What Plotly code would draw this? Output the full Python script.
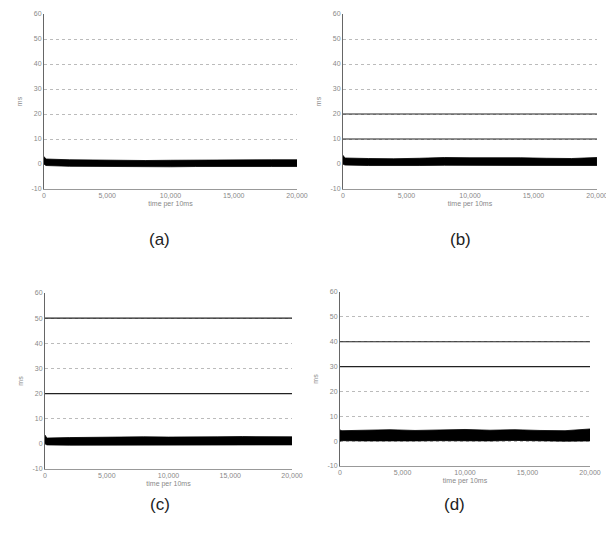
import plotly.graph_objects as go

# ---- data ----
x_ticks = [0, 5000, 10000, 15000, 20000]
x_tick_labels = ["0", "5,000", "10,000", "15,000", "20,000"]
y_ticks = [-10, 0, 10, 20, 30, 40, 50, 60]
y_tick_labels = ["-10", "0", "10", "20", "30", "40", "50", "60"]

# envelope of the dense noisy trace (read at these sample times)
env_x = [0, 150, 2000, 4000, 6000, 8000, 10000, 12000, 14000, 16000, 18000, 20000]

a_upper = [3.0, 2.0, 1.7, 1.5, 1.6, 1.4, 1.5, 1.6, 1.8, 1.9, 1.7, 1.7]
a_lower = [0.0, -0.6, -0.9, -1.0, -1.0, -1.1, -1.1, -1.0, -0.9, -0.9, -1.0, -1.0]

b_upper = [3.5, 2.4, 2.2, 2.1, 2.3, 2.6, 2.5, 2.6, 2.5, 2.3, 2.2, 2.6]
b_lower = [0.0, -0.4, -0.6, -0.7, -0.6, -0.5, -0.5, -0.5, -0.6, -0.7, -0.7, -0.6]

c_upper = [3.5, 2.3, 2.5, 2.6, 2.9, 2.8, 2.7, 2.9, 2.8, 2.9, 2.7, 2.8]
c_lower = [0.0, -0.4, -0.5, -0.5, -0.4, -0.4, -0.5, -0.5, -0.4, -0.4, -0.5, -0.4]

d_upper = [4.5, 4.2, 4.4, 4.6, 4.3, 4.5, 4.7, 4.4, 4.6, 4.3, 4.2, 4.9]
d_lower = [0.0, 0.2, 0.1, 0.0, 0.1, 0.2, 0.0, 0.1, 0.3, 0.1, 0.0, 0.1]

# constant reference levels in each panel
b_levels = [10, 20]
c_levels = [20, 50]
d_levels = [30, 40]

panels = [
    ("(a)", a_upper, a_lower, []),
    ("(b)", b_upper, b_lower, b_levels),
    ("(c)", c_upper, c_lower, c_levels),
    ("(d)", d_upper, d_lower, d_levels),
]

# ---- layout geometry (paper fractions; page body adds an 8px offset) ----
domains = [
    ([0.0594, 0.4769], [0.6629, 0.9888]),
    ([0.5528, 0.9719], [0.6629, 0.9888]),
    ([0.0611, 0.4686], [0.1415, 0.4693]),
    ([0.5479, 0.9604], [0.1471, 0.4711]),
]
caption_pos = [(0.2508, 0.568), (0.7459, 0.568), (0.2508, 0.0745), (0.7376, 0.0745)]

fig = go.Figure()
layout = dict(
    width=606, height=537,
    margin=dict(l=0, r=0, t=0, b=0, autoexpand=False),
    paper_bgcolor="white", plot_bgcolor="white",
    showlegend=False,
    font=dict(family="Liberation Sans, Arial, sans-serif", size=7, color="#888"),
    annotations=[],
)

for i, (cap, up, lo, levels) in enumerate(panels):
    n = "" if i == 0 else str(i + 1)
    xa, ya = "x" + n, "y" + n
    fig.add_trace(go.Scatter(x=env_x, y=lo, mode="lines", line=dict(color="black", width=0.8),
                             xaxis=xa, yaxis=ya, hoverinfo="skip"))
    fig.add_trace(go.Scatter(x=env_x, y=up, mode="lines", line=dict(color="black", width=0.8),
                             fill="tonexty", fillcolor="black",
                             xaxis=xa, yaxis=ya, hoverinfo="skip"))
    for lv in levels:
        fig.add_trace(go.Scatter(x=[env_x[0], env_x[-1]], y=[lv, lv], mode="lines",
                                 line=dict(color="#222", width=1.2),
                                 xaxis=xa, yaxis=ya, hoverinfo="skip"))
    xd, yd = domains[i]
    layout["xaxis" + n] = dict(
        domain=xd, anchor=ya, range=[0, 20000], tickvals=x_ticks, ticktext=x_tick_labels,
        showgrid=False, zeroline=False, showline=True, linecolor="#999", linewidth=1,
        ticks="", tickfont=dict(size=7, color="#888"), automargin=False,
        title=dict(text="time per 10ms", font=dict(size=7, color="#888"), standoff=2),
    )
    layout["yaxis" + n] = dict(
        domain=yd, anchor=xa, range=[-10, 60], tickvals=y_ticks, ticktext=y_tick_labels,
        showgrid=True, gridcolor="#bbbbbb", griddash="dot", gridwidth=1,
        zeroline=False, showline=True, linecolor="#666", linewidth=1,
        ticks="", tickfont=dict(size=7, color="#888"), automargin=False,
        title=dict(text="ms", font=dict(size=7, color="#888"), standoff=8),
    )
    cx, cy = caption_pos[i]
    layout["annotations"].append(dict(
        text=cap, x=cx, y=cy, xref="paper", yref="paper", showarrow=False,
        xanchor="center", yanchor="middle",
        font=dict(size=17, color="#222", family="Liberation Sans, Arial, sans-serif"),
    ))

fig.update_layout(**layout)
fig.write_html("out.html")
